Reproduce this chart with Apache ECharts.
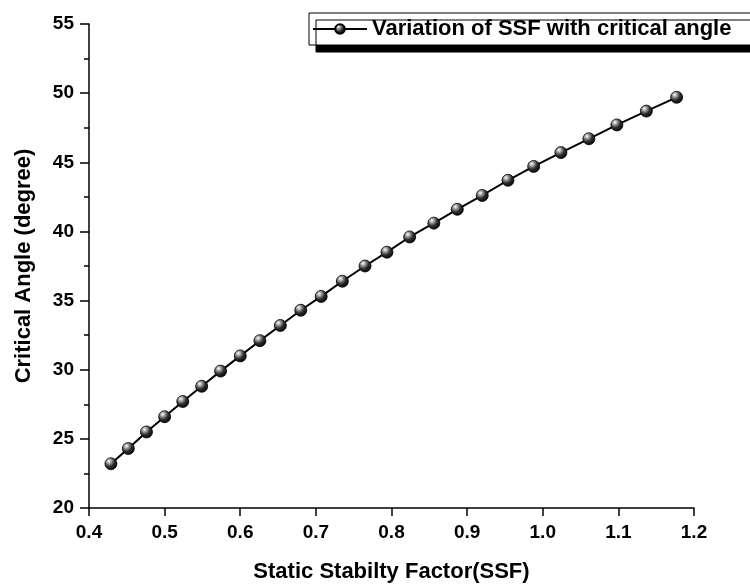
<!DOCTYPE html>
<html>
<head>
<meta charset="utf-8">
<script src="https://cdn.jsdelivr.net/npm/echarts@6/dist/echarts.min.js"></script>
<style>
  html, body { margin: 0; padding: 0; background: #fff; }
  #main { width: 750px; height: 588px; }
</style>
</head>
<body>
<div id="main"></div>
<script>
// static stability factor (x) vs critical angle in degrees (y)
var ssfValues = [0.429, 0.452, 0.476, 0.500, 0.524, 0.549, 0.574, 0.600, 0.626, 0.653,
                 0.680, 0.707, 0.735, 0.765, 0.794, 0.824, 0.856, 0.887, 0.920, 0.954,
                 0.988, 1.024, 1.061, 1.098, 1.137, 1.177];
var angleValues = [23.2, 24.3, 25.5, 26.6, 27.7, 28.8, 29.9, 31.0, 32.1, 33.2,
                   34.3, 35.3, 36.4, 37.5, 38.5, 39.6, 40.6, 41.6, 42.6, 43.7,
                   44.7, 45.7, 46.7, 47.7, 48.7, 49.7];
var seriesName = "Variation of SSF with critical angle";

var font = "'Liberation Sans', Arial, sans-serif";

var chartDom = document.getElementById("main");
var myChart = echarts.init(chartDom);

var points = ssfValues.map(function (x, i) {
    return [x, angleValues[i]];
});

var sphere = new echarts.graphic.RadialGradient(0.35, 0.3, 0.75, [
    { offset: 0, color: "#ffffff" },
    { offset: 0.2, color: "#b0b0b0" },
    { offset: 0.55, color: "#303030" },
    { offset: 1, color: "#000000" }
]);

var option = {
    animation: false,
    grid: {
        left: 89,
        right: 56,
        top: 24,
        bottom: 78
    },
    legend: {
        left: 309,
        top: 13,
        data: [seriesName],
        itemWidth: 54,
        itemHeight: 12,
        padding: [5, 30, 5, 3],
        backgroundColor: "#fff",
        borderColor: "#000",
        borderWidth: 1,
        shadowColor: "#000",
        shadowOffsetX: 7,
        shadowOffsetY: 7,
        shadowBlur: 0,
        textStyle: {
            fontFamily: font,
            fontWeight: "bold",
            fontSize: 22,
            color: "#000"
        }
    },
    xAxis: {
        type: "value",
        min: 0.4,
        max: 1.2,
        interval: 0.1,
        name: "Static Stabilty Factor(SSF)",
        nameLocation: "middle",
        nameGap: 53,
        nameTextStyle: {
            fontFamily: font,
            fontWeight: "bold",
            fontSize: 22,
            color: "#000",
            verticalAlign: "top"
        },
        axisLine: { show: true, onZero: false, lineStyle: { color: "#000", width: 1.5 } },
        axisTick: { show: true, inside: false, length: 8, lineStyle: { color: "#000", width: 1.5 } },
        minorTick: { show: false },
        splitLine: { show: false },
        axisLabel: {
            margin: 15,
            fontFamily: font,
            fontWeight: "bold",
            fontSize: 19,
            color: "#000",
            formatter: function (v) { return v.toFixed(1); }
        }
    },
    yAxis: {
        type: "value",
        min: 20,
        max: 55,
        interval: 5,
        name: "Critical Angle (degree)",
        nameLocation: "middle",
        nameGap: 54,
        nameTextStyle: {
            fontFamily: font,
            fontWeight: "bold",
            fontSize: 22,
            color: "#000"
        },
        axisLine: { show: true, onZero: false, lineStyle: { color: "#000", width: 1.5 } },
        axisTick: { show: true, inside: false, length: 9, lineStyle: { color: "#000", width: 1.5 } },
        minorTick: { show: true, splitNumber: 2, length: 5, lineStyle: { color: "#000", width: 1.5 } },
        splitLine: { show: false },
        axisLabel: {
            margin: 15,
            fontFamily: font,
            fontWeight: "bold",
            fontSize: 19,
            color: "#000"
        }
    },
    series: [
        {
            name: seriesName,
            type: "line",
            data: points,
            symbol: "circle",
            symbolSize: 12,
            lineStyle: { color: "#000", width: 2 },
            itemStyle: {
                color: sphere,
                borderColor: "#000",
                borderWidth: 0.8
            }
        }
    ]
};

option && myChart.setOption(option);
</script>
</body>
</html>
